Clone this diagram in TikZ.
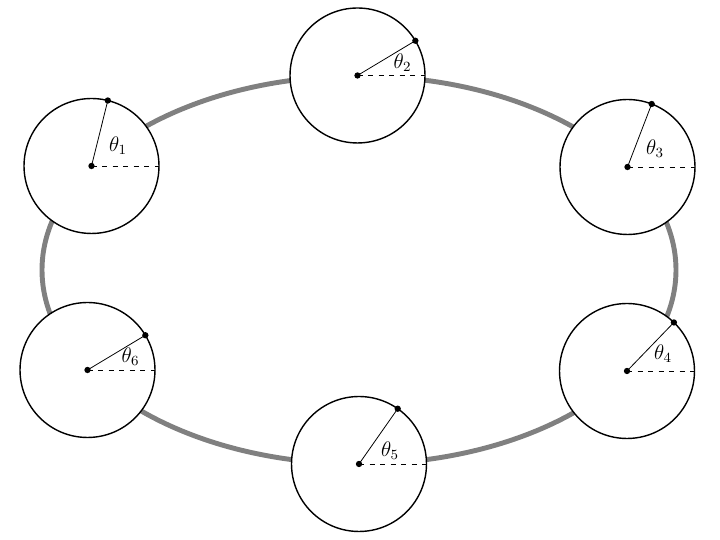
\documentclass[tikz,border=0pt]{standalone}
\begin{document}
\begin{tikzpicture}[
    x=0.02cm, y=0.02cm,
    rad/.style={circle, draw, line width=0.8pt, fill=white,
                minimum size=2.7cm, inner sep=0pt, outer sep=0pt},
    punkt/.style={circle, fill, inner sep=0pt, minimum size=3.6pt},
    speiche/.style={line width=0.45pt},
    nulllinie/.style={line width=0.45pt, dashed},
    winkel/.style={font=\large, inner sep=0pt}
]
\useasboundingbox (0,0) rectangle (720,540);

% --- Bahn (Ellipse), Mittelpunkt (359,270) ---
\draw[black!50, line width=2.8pt] (359,270) ellipse [x radius=317, y radius=194];

% --- Raeder auf der Bahn ---
\node[rad] (k1) at (91.5,374)  {};
\node[rad] (k2) at (357.5,464.5) {};
\node[rad] (k3) at (627.5,373) {};
\node[rad] (k4) at (627,169)   {};
\node[rad] (k5) at (359,76)    {};
\node[rad] (k6) at (87.5,170)  {};

% --- Nulllinien (gestrichelt) ---
\draw[nulllinie] (k1.center) -- (k1.east);
\draw[nulllinie] (k2.center) -- (k2.east);
\draw[nulllinie] (k3.center) -- (k3.east);
\draw[nulllinie] (k4.center) -- (k4.east);
\draw[nulllinie] (k5.center) -- (k5.east);
\draw[nulllinie] (k6.center) -- (k6.east);

% --- Speichen zum Markierungspunkt ---
\draw[speiche] (k1.center) -- (k1.76);
\draw[speiche] (k2.center) -- (k2.31);
\draw[speiche] (k3.center) -- (k3.69);
\draw[speiche] (k4.center) -- (k4.46);
\draw[speiche] (k5.center) -- (k5.55);
\draw[speiche] (k6.center) -- (k6.31);

% --- Punkte: Mitte und Rand ---
\node[punkt] (m1) at (k1.center) {};  \node[punkt] (r1) at (k1.76) {};
\node[punkt] (m2) at (k2.center) {};  \node[punkt] (r2) at (k2.31) {};
\node[punkt] (m3) at (k3.center) {};  \node[punkt] (r3) at (k3.69) {};
\node[punkt] (m4) at (k4.center) {};  \node[punkt] (r4) at (k4.46) {};
\node[punkt] (m5) at (k5.center) {};  \node[punkt] (r5) at (k5.55) {};
\node[punkt] (m6) at (k6.center) {};  \node[punkt] (r6) at (k6.31) {};

% --- Winkelbeschriftung ---
\node[winkel] (t1) at (118,394)   {$\theta_1$};
\node[winkel] (t2) at (402.5,477.5) {$\theta_2$};
\node[winkel] (t3) at (655,391)   {$\theta_3$};
\node[winkel] (t4) at (663,186.5) {$\theta_4$};
\node[winkel] (t5) at (390,89)    {$\theta_5$};
\node[winkel] (t6) at (130.5,183.5) {$\theta_6$};

\end{tikzpicture}
\end{document}
